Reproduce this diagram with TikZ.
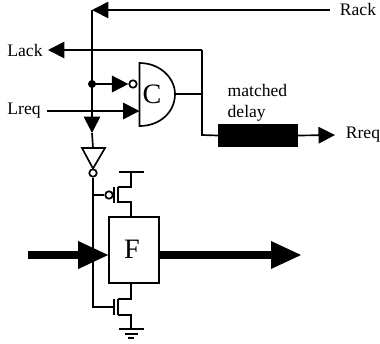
\documentclass[tikz,border=0pt]{standalone}
\usepackage{fontspec}
\setmainfont{Liberation Serif}
\usetikzlibrary{
    arrows.meta
}

\begin{document}
\begin{tikzpicture}[x=0.02cm,y=-0.02cm,line width=0.95pt,>={Triangle[length=0.33cm,width=0.33cm]}]
    \tikzstyle{bubble}=[shape=circle, draw, fill=white, inner sep=0pt, minimum size=0.15cm]
    \tikzstyle{bigarrow}=[line width=4pt, -{Triangle[length=0.6cm,width=0.56cm,line width=0pt]}]
    \useasboundingbox (0, 0) rectangle (380, 343);

    \node (rack) at (358, 9) {Rack};
    \node (lack) at (25, 50) {Lack};
    \node (lreq) at (24, 111) {Lreq};
    \node (rreq) at (363, 135) {Rreq};
    \node [anchor=west, align=left] (delaytext) at (221, 103) {matched\\ delay};

    \coordinate (rackend) at (330, 10);
    \coordinate (top) at (92, 10);
    \coordinate (lackend) at (202, 50);
    \coordinate (lacktip) at (48, 50);
    \coordinate (branch) at (92, 84);
    \coordinate (rail) at (92, 133);
    \coordinate (lreqstart) at (47, 111);
    \coordinate (gateup) at (139.5, 63);
    \coordinate (gatelow) at (139.5, 126);
    \coordinate (gatein) at (139.5, 111);
    \coordinate (gateout) at (175, 94);
    \coordinate (join) at (202, 94);
    \coordinate (corner) at (202, 135);
    \coordinate (rreqtip) at (335, 135);

    % C element
    \draw [fill=white] (gateup) .. controls (160, 63) and (175, 78) .. (gateout) .. controls (175, 112) and (160, 126) .. (gatelow) -- cycle;
    \node [font=\fontsize{16}{16}\selectfont] (c) at (152, 94) {C};
    \node [draw, fill=black, minimum width=1.56cm, minimum height=0.42cm, inner sep=0pt] (delay) at (258, 135.5) {};
    \node [bubble] (cbubble) at (133, 84) {};

    \draw [->] (rackend) -- (top);
    \draw [->] (lackend) -- (lacktip);
    \draw [->] (top) -- (rail);
    \draw [->] (branch) -- (cbubble.west);
    \draw [->] (lreqstart) -- (gatein);
    \fill (branch) circle (0.08cm);
    \draw (gateout) -- (join);
    \draw (lackend) -- (corner) -- (delay.west);
    \draw [->] (delay.east) -- (rreqtip);

    % inverter
    \coordinate (invtop) at (93, 148);
    \coordinate (invtip) at (93, 168.5);
    \draw (rail) -- (invtop);
    \draw (82, 148) -- (105, 148) -- (invtip) -- cycle;
    \node [bubble] (invbubble) at (93, 173) {};

    % function block
    \node [draw, minimum width=1cm, minimum height=1.32cm, inner sep=0pt] (block) at (134, 250) {};
    \node [font=\fontsize{16}{16}\selectfont] (f) at (132, 249) {F};

    \coordinate (pgate) at (93, 195);
    \coordinate (ngate) at (93, 307);
    \draw (invbubble.south) -- (ngate) -- (114, 307);

    % pull up
    \node [bubble] (pbubble) at (109, 195) {};
    \draw (pgate) -- (pbubble.west);
    \draw (114, 187) -- (114, 203);
    \draw (118, 187) -- (118, 203);
    \coordinate (vdd) at (131, 172);
    \draw (118, 187) -- (131, 187) -- (vdd);
    \draw (119, 172) -- (144, 172);
    \draw (118, 202) -- (131, 202) -- (131, 217);

    % pull down
    \draw (114, 299) -- (114, 315);
    \draw (118, 299) -- (118, 315);
    \draw (131, 283) -- (131, 299) -- (118, 299);
    \coordinate (gnd) at (131, 329);
    \draw (118, 315) -- (131, 315) -- (gnd);
    \draw (119, 329) -- (144, 329);
    \draw (125, 334) -- (138, 334);
    \draw (128, 338) -- (134, 338);

    % data path
    \coordinate (datain) at (28, 255);
    \coordinate (dataout) at (301, 255);
    \draw [bigarrow] (datain) -- (block.west |- datain);
    \draw [bigarrow] (block.east |- dataout) -- (dataout);
\end{tikzpicture}
\end{document}
